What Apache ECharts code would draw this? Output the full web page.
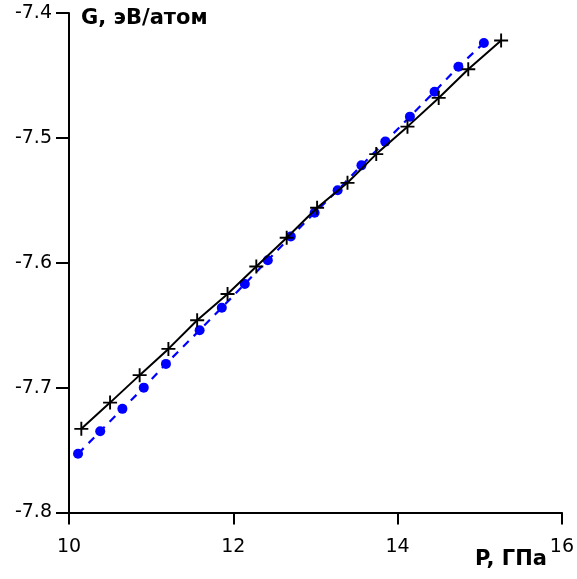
<!DOCTYPE html>
<html>
<head>
<meta charset="utf-8">
<script src="https://cdn.jsdelivr.net/npm/echarts@6/dist/echarts.min.js"></script>
<style>
  html, body { margin: 0; padding: 0; background: #fff; }
  #chart { width: 577px; height: 579px; }
</style>
</head>
<body>
<div id="chart"></div>
<script>
// Pressure, GPa (black curve with cross markers)
const crossP = [10.15, 10.50, 10.86, 11.21, 11.56, 11.93, 12.28, 12.65, 13.02, 13.39, 13.74, 14.12, 14.50, 14.86, 15.26];
// Gibbs energy, eV/atom
const crossG = [-7.733, -7.712, -7.690, -7.669, -7.646, -7.625, -7.603, -7.580, -7.556, -7.536, -7.513, -7.491, -7.468, -7.445, -7.422];

// Pressure, GPa (blue dashed curve with dots)
const dotP = [10.11, 10.38, 10.65, 10.91, 11.18, 11.59, 11.86, 12.14, 12.42, 12.70, 12.99, 13.27, 13.56, 13.85, 14.15, 14.45, 14.74, 15.05];
// Gibbs energy, eV/atom
const dotG = [-7.753, -7.735, -7.717, -7.700, -7.681, -7.654, -7.636, -7.617, -7.598, -7.579, -7.560, -7.542, -7.522, -7.503, -7.483, -7.463, -7.443, -7.424];

const xTicks = [10, 12, 14, 16];
const yTicks = [-7.8, -7.7, -7.6, -7.5, -7.4];

const FONT = '"DejaVu Sans", Arial, sans-serif';
const crossSymbol = 'path://M5,0L5,10M0,5L10,5';

const chart = echarts.init(document.getElementById('chart'), null, { renderer: 'canvas' });

chart.setOption({
  animation: false,
  backgroundColor: '#fff',
  grid: { left: 69, right: 12, top: 13, bottom: 66.5, containLabel: false },
  xAxis: {
    type: 'value',
    min: xTicks[0],
    max: xTicks[xTicks.length - 1],
    interval: 2,
    axisLine: { onZero: false, lineStyle: { color: '#000', width: 2 } },
    axisTick: { length: 12, lineStyle: { color: '#000', width: 2 } },
    axisLabel: { color: '#000', fontSize: 19, fontFamily: FONT, margin: 25 },
    splitLine: { show: false }
  },
  yAxis: {
    type: 'value',
    min: yTicks[0],
    max: yTicks[yTicks.length - 1],
    interval: 0.1,
    axisLine: { onZero: false, lineStyle: { color: '#000', width: 2 } },
    axisTick: { length: 13, lineStyle: { color: '#000', width: 2 } },
    axisLabel: {
      color: '#000', fontSize: 19, fontFamily: FONT, margin: 17,
      formatter: v => v.toFixed(1)
    },
    splitLine: { show: false }
  },
  graphic: [
    { type: 'text', left: 81, top: 8,
      style: { text: 'G, эВ/атом', fill: '#000', font: 'bold 21px ' + FONT } },
    { type: 'text', left: 475, top: 549,
      style: { text: 'P, ГПа', fill: '#000', font: 'bold 21px ' + FONT } }
  ],
  series: [
    {
      type: 'line',
      data: dotP.map((p, i) => [p, dotG[i]]),
      symbol: 'circle',
      symbolSize: 10,
      itemStyle: { color: '#0000ff' },
      lineStyle: { color: '#0000ff', width: 2.2, type: [8, 7] },
      z: 2
    },
    {
      type: 'line',
      data: crossP.map((p, i) => [p, crossG[i]]),
      symbol: crossSymbol,
      symbolSize: 14,
      itemStyle: { color: 'rgba(0,0,0,0)', borderColor: '#000', borderWidth: 1.9 },
      lineStyle: { color: '#000', width: 2 },
      z: 3
    }
  ]
});
</script>
</body>
</html>
